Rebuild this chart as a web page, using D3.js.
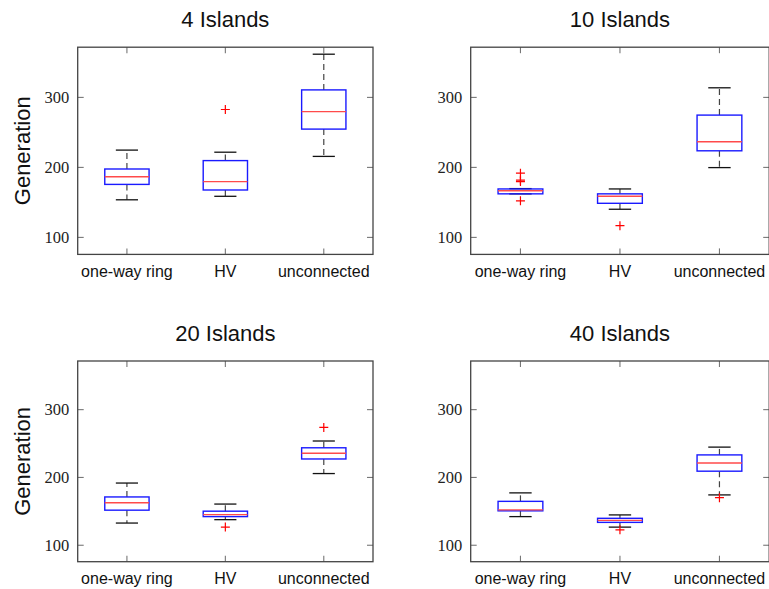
<!DOCTYPE html>
<html>
<head>
<meta charset="utf-8">
<script src="https://cdn.jsdelivr.net/npm/d3@7"></script>
<style>
	body { margin: 0; background: #fff; }
	svg { display: block; }
</style>
</head>
<body>
<svg></svg>
<script>
// categories and tick values
const categories = ["one-way ring", "HV", "unconnected"];
const panelTitles = ["4 Islands", "10 Islands", "20 Islands", "40 Islands"];
const yTicks = [100, 200, 300];
const yDomain = [75, 371];

// box stats per panel: [lower whisker, q1, median, q3, upper whisker]
const stats4 = [[153, 175, 186, 197, 224], [158, 167, 179, 209, 221], [215, 254, 279, 310, 361]];
const stats10 = [[161.5, 161.5, 166, 168.5, 169], [139.5, 148, 158, 161.5, 168.5], [199, 223, 236, 274, 313]];
const stats20 = [[132, 151, 162, 170.5, 191], [137, 141.5, 144.5, 149.5, 160], [205, 226.5, 235, 243, 253]];
const stats40 = [[141.5, 150, 151.5, 164, 176.5], [126, 133, 136, 139, 144], [173.5, 208.5, 220.5, 232.5, 244]];

const outliers4 = [[], [282], []];
const outliers10 = [[191, 181, 179, 151.5], [116], []];
const outliers20 = [[], [126], [273]];
const outliers40 = [[], [122], [169.5]];

const allStats = [stats4, stats10, stats20, stats40];
const allOutliers = [outliers4, outliers10, outliers20, outliers40];

const svgWidth = 769;
const svgHeight = 589;
const svg = d3.select("svg")
				.attr("width", svgWidth)
				.attr("height", svgHeight);

// panel frames
const panels = [
	{left: 77.7, top: 47.2, width: 295.3, height: 207.2},
	{left: 470.7, top: 47.2, width: 298.5, height: 207.2},
	{left: 77.7, top: 361, width: 295.3, height: 200.7},
	{left: 470.7, top: 361, width: 298.5, height: 200.7}
];

const sansFont = "'Liberation Sans', Arial, Helvetica, sans-serif";
const serifFont = "'Liberation Serif', 'Times New Roman', serif";
const tickLen = 6;

panels.forEach((p, i) => {
	let stats = allStats[i];
	let outliers = allOutliers[i];

	let xScale = d3.scaleBand()
					.domain(categories)
					.range([0, p.width]);
	let yScale = d3.scaleLinear()
					.domain(yDomain)
					.range([p.height, 0]);
	let cx = c => xScale(c) + xScale.bandwidth() / 2;
	let boxW = xScale.bandwidth() * 0.45;
	let capW = boxW * 0.5;

	let g = svg.append("g")
			.attr("transform", `translate(${p.left}, ${p.top})`);

	// inward ticks on all four sides
	let leftAxis = d3.axisLeft(yScale)
					.tickValues(yTicks)
					.tickSizeInner(-tickLen)
					.tickSizeOuter(0)
					.tickPadding(8.5);
	let rightAxis = d3.axisRight(yScale)
					.tickValues(yTicks)
					.tickSizeInner(-tickLen)
					.tickSizeOuter(0)
					.tickFormat("");
	let bottomAxis = d3.axisBottom(xScale)
					.tickSizeInner(-tickLen)
					.tickSizeOuter(0)
					.tickPadding(11);
	let topAxis = d3.axisTop(xScale)
					.tickSizeInner(-tickLen)
					.tickSizeOuter(0)
					.tickFormat("");

	let axes = [
		g.append("g").call(leftAxis),
		g.append("g").attr("transform", `translate(${p.width}, 0)`).call(rightAxis),
		g.append("g").attr("transform", `translate(0, ${p.height})`).call(bottomAxis),
		g.append("g").call(topAxis)
	];
	axes.forEach(a => {
		a.select(".domain").remove();
		a.selectAll(".tick line").attr("stroke", "#777").attr("stroke-width", 1.1);
	});
	axes[0].selectAll("text")
			.style("font-family", serifFont)
			.style("font-size", "16.5px")
			.attr("fill", "#222");
	axes[2].selectAll("text")
			.style("font-family", sansFont)
			.style("font-size", "16px")
			.attr("fill", "#111");

	// whiskers (dashed)
	let boxes = g.selectAll(".box")
			.data(categories)
			.enter()
			.append("g")
			.classed("box", true);

	boxes.append("line")
			.attr("x1", c => cx(c))
			.attr("x2", c => cx(c))
			.attr("y1", (c, j) => yScale(stats[j][3]))
			.attr("y2", (c, j) => yScale(stats[j][4]))
			.attr("stroke", "#444")
			.attr("stroke-width", 1.2)
			.attr("stroke-dasharray", "6,4");
	boxes.append("line")
			.attr("x1", c => cx(c))
			.attr("x2", c => cx(c))
			.attr("y1", (c, j) => yScale(stats[j][1]))
			.attr("y2", (c, j) => yScale(stats[j][0]))
			.attr("stroke", "#444")
			.attr("stroke-width", 1.2)
			.attr("stroke-dasharray", "6,4");

	// caps
	[0, 4].forEach(k => {
		boxes.append("line")
				.attr("x1", c => cx(c) - capW / 2)
				.attr("x2", c => cx(c) + capW / 2)
				.attr("y1", (c, j) => yScale(stats[j][k]))
				.attr("y2", (c, j) => yScale(stats[j][k]))
				.attr("stroke", "#111")
				.attr("stroke-width", 1.3);
	});

	// box
	boxes.append("rect")
			.attr("x", c => cx(c) - boxW / 2)
			.attr("y", (c, j) => yScale(stats[j][3]))
			.attr("width", boxW)
			.attr("height", (c, j) => yScale(stats[j][1]) - yScale(stats[j][3]))
			.attr("fill", "none")
			.attr("stroke", "#1a1aff")
			.attr("stroke-width", 1.4);

	// median
	boxes.append("line")
			.attr("x1", c => cx(c) - boxW / 2)
			.attr("x2", c => cx(c) + boxW / 2)
			.attr("y1", (c, j) => yScale(stats[j][2]))
			.attr("y2", (c, j) => yScale(stats[j][2]))
			.attr("stroke", "#ff4a4a")
			.attr("stroke-width", 1.4);

	// outliers
	let pts = [];
	categories.forEach((c, j) => outliers[j].forEach(v => pts.push({c: c, v: v})));
	g.selectAll(".outlier")
			.data(pts)
			.enter()
			.append("path")
			.classed("outlier", true)
			.attr("d", "M-4.5,0H4.5M0,-4.5V4.5")
			.attr("transform", d => `translate(${cx(d.c)}, ${yScale(d.v)})`)
			.attr("stroke", "#f00")
			.attr("stroke-width", 1.2)
			.attr("fill", "none");

	// frame
	g.append("rect")
			.attr("width", p.width)
			.attr("height", p.height)
			.attr("fill", "none")
			.attr("stroke", "#444")
			.attr("stroke-width", 1.3);

	// Plot label
	svg.append("text")
			.text(panelTitles[i])
			.attr("x", p.left + p.width / 2)
			.attr("y", p.top - 20.4)
			.style("font-family", sansFont)
			.style("font-size", "22px")
			.attr("fill", "#111")
			.attr("text-anchor", "middle");

	// Y axis label on left column
	if (i % 2 === 0) {
		svg.append("text")
				.text("Generation")
				.attr("transform", `translate(29.5, ${p.top + p.height / 2}) rotate(-90)`)
				.style("font-family", sansFont)
				.style("font-size", "22px")
				.attr("fill", "#111")
				.attr("text-anchor", "middle");
	}
});
</script>
</body>
</html>
